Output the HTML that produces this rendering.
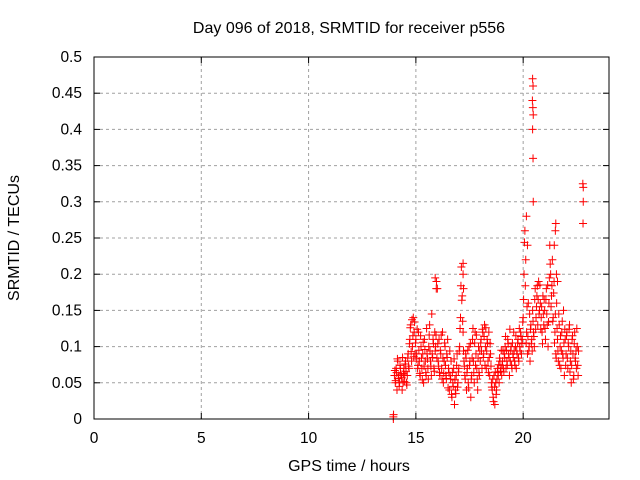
<!DOCTYPE html>
<html><head><meta charset="utf-8"><style>
body{margin:0;background:#fff;}
svg{display:block;font-family:"Liberation Sans",sans-serif;font-size:15.5px;}
</style></head><body>
<svg id="chart" width="640" height="480">
<rect width="640" height="480" fill="#fff"/>
<g id="grid"></g>
<g id="ticks"></g>
<g id="marks"></g>
<rect x="94" y="57" width="515" height="362" fill="none" stroke="#000" stroke-width="1"/>
<text x="349" y="33" text-anchor="middle" style="font-size:16px">Day 096 of 2018, SRMTID for receiver p556</text>
<text x="349" y="471" text-anchor="middle" style="font-size:16px">GPS time / hours</text>
<text transform="translate(19,238) rotate(-90)" text-anchor="middle" style="font-size:16px">SRMTID / TECUs</text>
</svg>
<script>
const xTicks=[0,5,10,15,20];
const yTicks=[0,0.05,0.1,0.15,0.2,0.25,0.3,0.35,0.4,0.45,0.5];
const yTickLabels=["0","0.05","0.1","0.15","0.2","0.25","0.3","0.35","0.4","0.45","0.5"];
const chunkStart=[14,15,16,17,18,19,20,21,22];
const valuesA=[
[.06,.05,.07,.04,.08,.06,.05,.07,.06,.04,.05,.07,.06,.08,.05,.06,.09,.07,.11,.13,.08,.10,.14,.12,.09],
[.11,.09,.07,.12,.08,.06,.10,.07,.09,.05,.11,.08,.06,.09,.07,.10,.13,.08,.06,.09,.11,.07,.12,.10,.19],
[.18,.08,.11,.06,.09,.07,.12,.05,.08,.10,.06,.09,.11,.07,.04,.06,.08,.03,.05,.07,.02,.04,.06,.09,.05],
[.07,.10,.14,.21,.17,.12,.08,.06,.09,.04,.07,.05,.10,.08,.03,.06,.11,.08,.05,.12,.09,.07,.04,.10,.06],
[.08,.11,.07,.12,.09,.13,.10,.07,.11,.08,.12,.06,.09,.05,.04,.03,.06,.02,.05,.04,.07,.06,.05,.08,.07],
[.06,.08,.07,.09,.10,.07,.08,.11,.09,.06,.08,.10,.07,.09,.12,.08,.10,.07,.09,.11,.08,.10,.12,.09,.11],
[.14,.20,.26,.22,.12,.09,.16,.10,.08,.13,.11,.15,.12,.10,.18,.14,.17,.13,.19,.15,.16,.14,.12,.17,.13],
[.15,.11,.18,.13,.10,.16,.24,.20,.17,.22,.14,.19,.12,.09,.16,.11,.08,.13,.10,.07,.12,.09,.15,.06,.11],
[.09,.12,.07,.10,.13,.08,.05,.11,.09,.06,.12,.08,.07,.10,.06]
];
const valuesB=[
[.067,.053,.064,.083,.056,.045,.074,.062,.057,.085,.063,.052,.076,.066,.047,.084,.073,.104,.126,.093,.137,.115,.086,.134,.105],
[.083,.124,.074,.095,.063,.115,.084,.054,.106,.073,.096,.064,.125,.083,.055,.116,.094,.073,.145,.085,.104,.066,.094,.116,.084],
[.104,.073,.064,.095,.116,.055,.084,.063,.105,.074,.056,.085,.043,.064,.094,.055,.034,.064,.045,.083,.054,.035,.074,.044,.065],
[.094,.125,.184,.164,.135,.094,.073,.055,.084,.064,.095,.043,.074,.104,.055,.084,.125,.064,.105,.074,.116,.055,.084,.064,.094],
[.105,.094,.124,.085,.114,.074,.126,.094,.105,.064,.085,.104,.073,.044,.055,.024,.044,.065,.034,.055,.064,.075,.084,.066,.095],
[.074,.094,.065,.084,.114,.095,.074,.104,.085,.124,.094,.074,.105,.085,.094,.074,.115,.094,.105,.084,.125,.094,.114,.104,.134],
[.165,.244,.184,.105,.155,.114,.094,.145,.124,.104,.094,.135,.114,.165,.124,.155,.184,.165,.145,.185,.124,.155,.104,.145,.165],
[.125,.165,.145,.185,.134,.195,.214,.155,.184,.135,.174,.105,.145,.084,.125,.094,.145,.074,.115,.094,.135,.084,.105,.124,.074],
[.115,.084,.105,.124,.065,.094,.074,.115,.055,.104,.084,.094,.125,.074,.094]
];
const extraHours=[13.95,13.95,13.96,20.44,20.46,20.43,20.45,20.47,20.44,20.46,20.47,20.15,20.2,22.8,22.78,22.8,22.79,17.2,17.2,17.22,15.95,15.9,21.5,21.52,21.45,21.55,21.6];
const extraValues=[0,0.003,0.006,.47,.46,.44,.43,.42,.40,.36,.30,.28,.24,.32,.325,.30,.27,.215,.20,.18,.18,.195,.26,.27,.24,.20,.19];
const step=0.04;

const X0=94,X1=609,Y0=419,Y1=57,XMAX=24,YMAX=0.5;
function sx(h){return X0+(X1-X0)*h/XMAX;}
function sy(v){return Y0-(Y0-Y1)*v/YMAX;}
const NS="http://www.w3.org/2000/svg";
function mk(tag,attrs,parent){const e=document.createElementNS(NS,tag);for(const k in attrs)e.setAttribute(k,attrs[k]);parent.appendChild(e);return e;}
const grid=document.getElementById('grid'),ticks=document.getElementById('ticks'),marks=document.getElementById('marks'),svg=document.getElementById('chart');
xTicks.forEach(t=>{
  const x=sx(t);
  if(t>0){const g=mk('line',{x1:x,x2:x,y1:Y1,y2:Y0,stroke:'#a0a0a0','stroke-dasharray':'3,3'},grid);
  
  }
  mk('line',{x1:x,x2:x,y1:Y0,y2:Y0-6,stroke:'#000'},ticks);
  mk('line',{x1:x,x2:x,y1:Y1,y2:Y1+6,stroke:'#000'},ticks);
  const l=mk('text',{x:x,y:443,'text-anchor':'middle'},svg);l.textContent=t;
  
  
});
yTicks.forEach((t,i)=>{
  const y=sy(t);
  if(t>0&&t<YMAX){const g=mk('line',{x1:X0,x2:X1,y1:y,y2:y,stroke:'#a0a0a0','stroke-dasharray':'3,3'},grid);
  
  }
  mk('line',{x1:X0,x2:X0+6,y1:y,y2:y,stroke:'#000'},ticks);
  mk('line',{x1:X1,x2:X1-6,y1:y,y2:y,stroke:'#000'},ticks);
  const l=mk('text',{x:82,y:y+5,'text-anchor':'end'},svg);l.textContent=yTickLabels[i];
  
  
});
function cross(h,v){
  const x=sx(h),y=sy(v);
  const p=mk('path',{d:`M${x-4},${y}H${x+4}M${x},${y-4}V${y+4}`,stroke:'#ff0000','stroke-width':1,fill:'none'},marks);
  
  
}
chunkStart.forEach((s,c)=>{
  valuesA[c].forEach((v,i)=>cross(s+i*step,v));
  valuesB[c].forEach((v,i)=>cross(s+0.02+i*step,v));
});
extraHours.forEach((h,i)=>cross(h,extraValues[i]));
</script>
</body></html>
